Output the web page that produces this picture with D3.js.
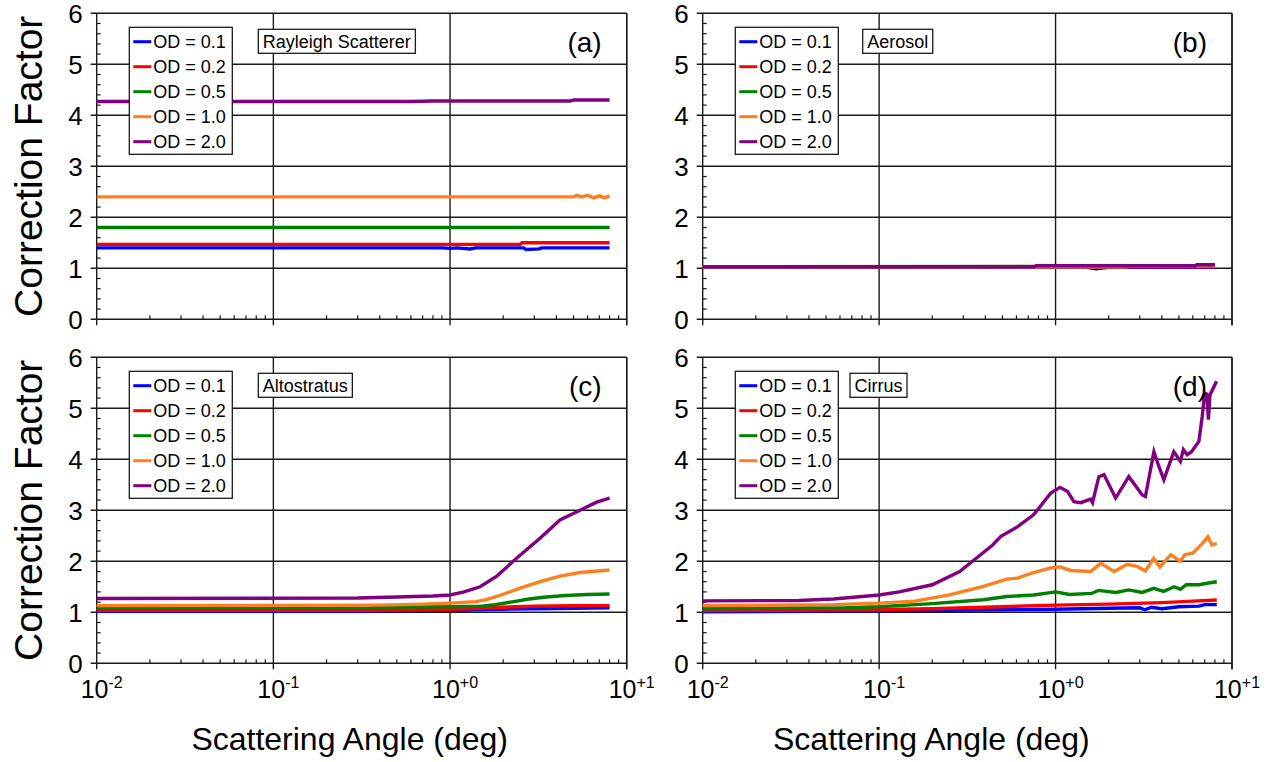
<!DOCTYPE html>
<html>
<head>
<meta charset="utf-8">
<script src="https://cdn.jsdelivr.net/npm/d3@7"></script>
<style>
  html, body { margin: 0; padding: 0; background: #fff; }
  svg text { font-family: "Liberation Sans", Arial, sans-serif; fill: #000; }
</style>
</head>
<body>
<svg id="chart" width="1273" height="762"></svg>
<script>
// ---------------- DATA ----------------
const seriesNames = ["OD = 0.1", "OD = 0.2", "OD = 0.5", "OD = 1.0", "OD = 2.0"];
const seriesColors = ["#0000ff", "#ff0000", "#008000", "#ff7f1e", "#800080"];
const panelLetters = ["(a)", "(b)", "(c)", "(d)"];
const panelLabels = ["Rayleigh Scatterer", "Aerosol", "Altostratus", "Cirrus"];
const yTicks = [0, 1, 2, 3, 4, 5, 6];
const xTickValues = [0.01, 0.1, 1, 10];
const xTickExponents = ["-2", "-1", "+0", "+1"];
const yTitle = "Correction Factor";
const xTitle = "Scattering Angle (deg)";

// (a) Rayleigh Scatterer  — [angle (deg), correction factor]
const rayleigh_od01 = [[0.01,1.40],[0.9,1.40],[1.0,1.39],[1.1,1.40],[1.3,1.38],[1.4,1.40],[2.6,1.40],[2.7,1.37],[3.2,1.38],[3.3,1.40],[8.0,1.40]];
const rayleigh_od02 = [[0.01,1.47],[2.5,1.47],[2.55,1.50],[8.0,1.50]];
const rayleigh_od05 = [[0.01,1.80],[8.0,1.80]];
const rayleigh_od10 = [[0.01,2.40],[5.0,2.40],[5.2,2.43],[5.6,2.40],[6.0,2.43],[6.5,2.38],[7.0,2.42],[7.5,2.38],[8.0,2.42]];
const rayleigh_od20 = [[0.01,4.27],[0.6,4.27],[0.8,4.28],[4.8,4.28],[5.0,4.30],[8.0,4.30]];

// (b) Aerosol
const aerosol_od01 = [[0.01,1.02],[1.5,1.02],[1.7,0.99],[2.0,1.02],[8.0,1.02]];
const aerosol_od02 = [[0.01,1.03],[8.0,1.03]];
const aerosol_od05 = [[0.01,1.03],[8.0,1.04]];
const aerosol_od10 = [[0.01,1.03],[2.5,1.03],[2.6,1.04],[8.0,1.05]];
const aerosol_od20 = [[0.01,1.03],[0.75,1.03],[0.78,1.05],[6.2,1.05],[6.3,1.07],[8.0,1.07]];

// (c) Altostratus
const alto_od01 = [[0.01,1.02],[0.3,1.02],[0.5,1.03],[1,1.04],[2,1.06],[3,1.07],[5,1.08],[8,1.09]];
const alto_od02 = [[0.01,1.04],[0.3,1.04],[0.7,1.05],[1,1.06],[1.5,1.08],[2,1.10],[3,1.12],[5,1.13],[8,1.13]];
const alto_od05 = [[0.01,1.08],[0.35,1.08],[0.4,1.10],[1,1.11],[1.5,1.12],[1.8,1.15],[2.3,1.21],[2.8,1.26],[3.5,1.30],[4.5,1.33],[6,1.35],[8,1.36]];
const alto_od10 = [[0.01,1.13],[0.4,1.14],[0.7,1.16],[1,1.18],[1.4,1.21],[1.6,1.25],[1.84,1.31],[2.47,1.47],[3.23,1.60],[4.19,1.71],[5.44,1.78],[8,1.83]];
const alto_od20 = [[0.01,1.27],[0.3,1.28],[0.5,1.30],[0.8,1.32],[1,1.34],[1.2,1.40],[1.48,1.50],[1.84,1.71],[2.38,2.06],[3.23,2.45],[4.19,2.81],[5.44,3.0],[6.76,3.16],[8,3.24]];

// (d) Cirrus
const cirrus_od01 = [[0.01,1.01],[0.13,1.03],[0.49,1.05],[1,1.06],[2,1.08],[3.0,1.09],[3.2,1.05],[3.5,1.10],[4,1.07],[5,1.11],[6.5,1.12],[7,1.15],[8.2,1.15]];
const cirrus_od02 = [[0.01,1.035],[0.085,1.05],[0.2,1.07],[0.49,1.11],[1,1.14],[2,1.16],[4,1.19],[6,1.22],[8.2,1.24]];
const cirrus_od05 = [[0.01,1.07],[0.065,1.09],[0.1,1.11],[0.2,1.17],[0.39,1.245],[0.53,1.31],[0.75,1.34],[1.0,1.40],[1.2,1.35],[1.6,1.37],[1.75,1.43],[2.2,1.39],[2.6,1.44],[3.1,1.39],[3.6,1.47],[4.1,1.41],[4.7,1.50],[5.1,1.45],[5.5,1.54],[6.5,1.54],[7.5,1.58],[8.2,1.60]];
const cirrus_od10 = [[0.01,1.13],[0.055,1.15],[0.1,1.18],[0.16,1.22],[0.25,1.34],[0.39,1.51],[0.53,1.65],[0.61,1.67],[0.75,1.78],[0.94,1.87],[1.06,1.89],[1.22,1.82],[1.58,1.80],[1.8,1.96],[2.15,1.80],[2.55,1.94],[2.9,1.90],[3.23,1.81],[3.6,2.06],[3.9,1.89],[4.5,2.13],[5.1,2.00],[5.4,2.13],[6.0,2.16],[6.8,2.35],[7.3,2.48],[7.7,2.32],[8.2,2.35]];
const cirrus_od20 = [[0.01,1.225],[0.035,1.23],[0.055,1.26],[0.1,1.34],[0.13,1.40],[0.2,1.54],[0.286,1.80],[0.355,2.06],[0.44,2.32],[0.49,2.49],[0.61,2.68],[0.75,2.91],[0.94,3.34],[1.06,3.45],[1.17,3.37],[1.27,3.17],[1.39,3.15],[1.58,3.22],[1.62,3.15],[1.76,3.66],[1.88,3.70],[2.19,3.24],[2.6,3.66],[3.1,3.30],[3.23,3.27],[3.61,4.15],[3.85,3.86],[4.11,3.60],[4.68,4.15],[5.1,3.96],[5.3,4.19],[5.57,4.09],[5.9,4.15],[6.49,4.35],[6.78,4.84],[7.0,5.30],[7.2,5.28],[7.35,4.78],[7.5,5.26],[8.18,5.53]];

const panelSeries = [
  [rayleigh_od01, rayleigh_od02, rayleigh_od05, rayleigh_od10, rayleigh_od20],
  [aerosol_od01, aerosol_od02, aerosol_od05, aerosol_od10, aerosol_od20],
  [alto_od01, alto_od02, alto_od05, alto_od10, alto_od20],
  [cirrus_od01, cirrus_od02, cirrus_od05, cirrus_od10, cirrus_od20]
];

// ---------------- LAYOUT ----------------
const colX = [[96.7, 626.7], [702.7, 1232]];
const rowY = [[13.3, 319.3], [357.3, 663.3]];
const labelBoxX = [258.3, 862.7, 258.3, 850];
const xTitleShift = [-12, -36];
const axisColor = "#1a1a1a";

const svg = d3.select("#chart");

panelSeries.forEach((series, pi) => {
  const col = pi % 2, row = Math.floor(pi / 2);
  const [x0, x1] = colX[col];
  const [yT, yB] = rowY[row];
  const x = d3.scaleLog().domain([0.01, 10]).range([x0, x1]);
  const y = d3.scaleLinear().domain([0, 6]).range([yB, yT]);
  const g = svg.append("g");

  // horizontal gridlines + major y ticks (outside)
  g.selectAll(".hg").data(yTicks).join("line")
    .attr("x1", x0 - 6).attr("x2", x1)
    .attr("y1", d => y(d)).attr("y2", d => y(d))
    .attr("stroke", axisColor).attr("stroke-width", 1.4);

  // minor y ticks (inside)
  const yMinor = d3.range(0, 6.001, 0.2).filter(v => Math.abs(v - Math.round(v)) > 0.01);
  g.selectAll(".ym").data(yMinor).join("line")
    .attr("x1", x0).attr("x2", x0 + 4)
    .attr("y1", d => y(d)).attr("y2", d => y(d))
    .attr("stroke", axisColor).attr("stroke-width", 1.2);

  // vertical gridlines + major x ticks (outside)
  g.selectAll(".vg").data(xTickValues).join("line")
    .attr("x1", d => x(d)).attr("x2", d => x(d))
    .attr("y1", yT).attr("y2", yB + 6)
    .attr("stroke", axisColor).attr("stroke-width", 1.4);

  // minor x ticks (inside)
  const xMinor = [];
  [0.01, 0.1, 1].forEach(dec => { for (let k = 2; k <= 9; k++) xMinor.push(dec * k); });
  g.selectAll(".xm").data(xMinor).join("line")
    .attr("x1", d => x(d)).attr("x2", d => x(d))
    .attr("y1", yB).attr("y2", yB - 4)
    .attr("stroke", axisColor).attr("stroke-width", 1.2);

  // frame right edge
  g.append("line").attr("x1", x1).attr("x2", x1).attr("y1", yT).attr("y2", yB + 6)
    .attr("stroke", axisColor).attr("stroke-width", 1.4);

  // y tick labels
  g.selectAll(".yl").data(yTicks).join("text")
    .attr("x", x0 - 14).attr("y", d => y(d)).attr("dy", "0.36em")
    .attr("text-anchor", "end").attr("font-size", 26)
    .text(d => d);

  // data lines
  const line = d3.line().x(d => x(d[0])).y(d => y(d[1]));
  series.forEach((s, si) => {
    g.append("path").datum(s)
      .attr("d", line)
      .attr("fill", "none")
      .attr("stroke", seriesColors[si])
      .attr("stroke-width", 3.4)
      .attr("stroke-linejoin", "miter");
  });

  // legend
  const lgX = x0 + 32.6, lgY = yT + 14;
  g.append("rect").attr("x", lgX).attr("y", lgY).attr("width", 103).attr("height", 127)
    .attr("fill", "#fff").attr("stroke", axisColor).attr("stroke-width", 1.3);
  seriesNames.forEach((name, si) => {
    const ry = lgY + 14.4 + si * 25;
    g.append("line").attr("x1", lgX + 4).attr("x2", lgX + 22)
      .attr("y1", ry).attr("y2", ry)
      .attr("stroke", seriesColors[si]).attr("stroke-width", 3);
    g.append("text").attr("x", lgX + 24).attr("y", ry).attr("dy", "0.36em")
      .attr("font-size", 18).text(name);
  });

  // label box
  const lbX = labelBoxX[pi];
  const lbT = g.append("text").attr("x", lbX + 4.5).attr("y", yT + 16 + 18.5)
    .attr("font-size", 18).text(panelLabels[pi]);
  const tw = lbT.node().getComputedTextLength();
  g.insert("rect", "text").attr("x", lbX).attr("y", yT + 16).attr("width", tw + 9).attr("height", 24)
    .attr("fill", "#fff").attr("stroke", axisColor).attr("stroke-width", 1.3);

  // panel letter
  g.append("text").attr("x", x1 - 25).attr("y", yT + 28.4).attr("dy", "0.36em")
    .attr("text-anchor", "end").attr("font-size", 28).text(panelLetters[pi]);

  // y axis title (left column only)
  if (col === 0) {
    g.append("text")
      .attr("transform", `translate(${x0 - 55},${(yT + yB) / 2}) rotate(-90)`)
      .attr("text-anchor", "middle").attr("font-size", 39)
      .text(yTitle);
  }

  // x tick labels + title on bottom row
  if (row === 1) {
    xTickValues.forEach((v, ti) => {
      const t = g.append("text").attr("x", x(v) + 5).attr("y", yB + 35)
        .attr("text-anchor", "middle").attr("font-size", 25);
      t.append("tspan").text("10");
      t.append("tspan").attr("font-size", 16).attr("dy", -10).text(xTickExponents[ti]);
    });
    g.append("text").attr("x", (x0 + x1) / 2 + xTitleShift[col]).attr("y", yB + 87)
      .attr("text-anchor", "middle").attr("font-size", 32)
      .text(xTitle);
  }
});
</script>
</body>
</html>
